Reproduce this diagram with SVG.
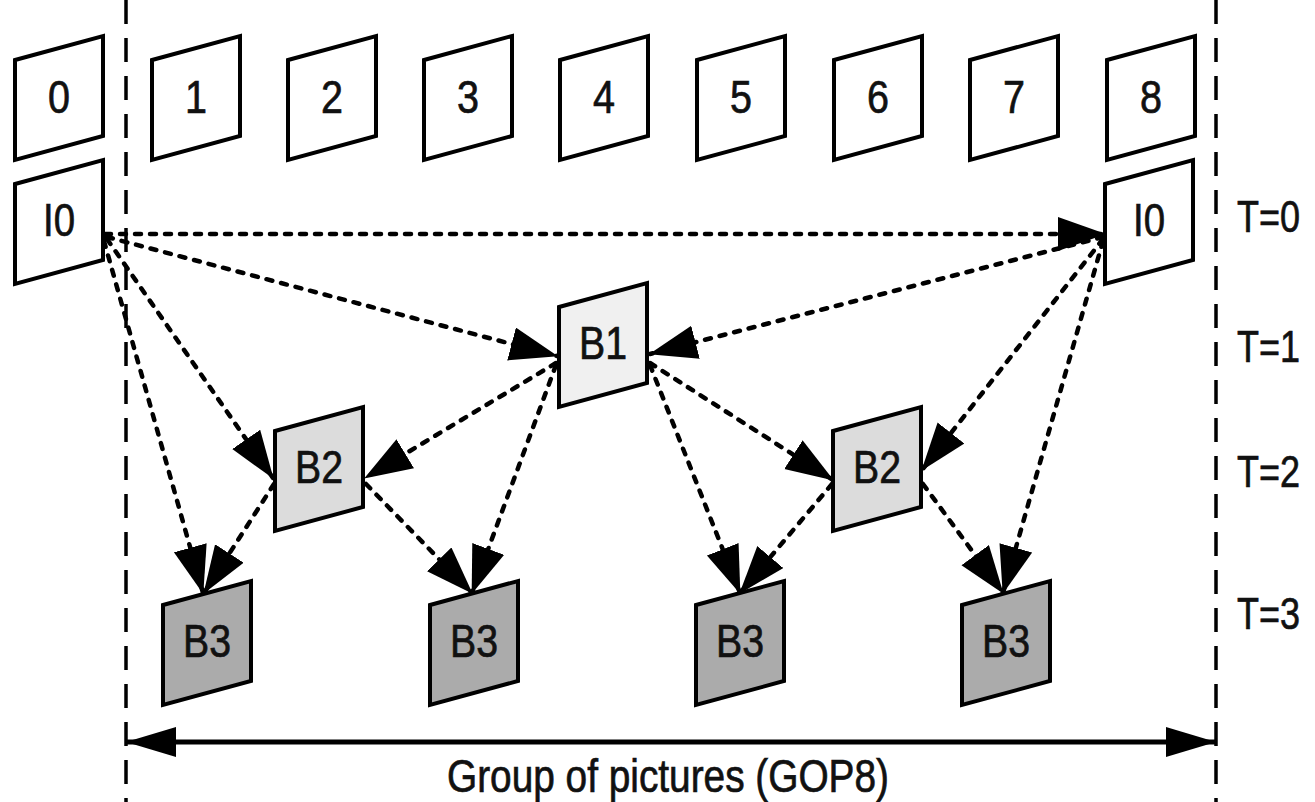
<svg xmlns="http://www.w3.org/2000/svg" width="1315" height="802" viewBox="0 0 1315 802">
<style>
.fr{stroke:#000;stroke-width:4;stroke-linejoin:miter}
.w{fill:#fff}.b1{fill:#f0f0f0}.b2{fill:#dcdcdc}.b3{fill:#ababab}
.t{font-family:"Liberation Sans",Arial,sans-serif;font-size:46px;fill:#111;stroke:#111;stroke-width:0.7;text-anchor:middle}
.tl{font-family:"Liberation Sans",Arial,sans-serif;font-size:45px;fill:#111;stroke:#111;stroke-width:0.7}
.c{fill:none;stroke:#000;stroke-width:4.5;stroke-linecap:round;stroke-dasharray:6 9;marker-end:url(#ah)}
.v{fill:none;stroke:#000;stroke-width:3.5;stroke-dasharray:24 14}
</style>
<defs>
<marker id="ah" markerUnits="userSpaceOnUse" viewBox="0 0 50 36" markerWidth="50" markerHeight="36" refX="47" refY="17" orient="auto"><path d="M0,0 L48,17 L0,34 z" fill="#000"/></marker>
<marker id="bh" markerUnits="userSpaceOnUse" viewBox="0 0 52 32" markerWidth="52" markerHeight="32" refX="50" refY="15" orient="auto-start-reverse"><path d="M0,0 L50,15 L0,30 z" fill="#000"/></marker>
</defs>
<rect width="1315" height="802" fill="#fff"/>
<g id="guides">
<line class="v" x1="126" y1="0" x2="126" y2="802"/>
<line class="v" x1="1216" y1="0" x2="1216" y2="802"/>
</g>
<g id="frames">
<g id="f0"><polygon class="fr w" points="15,60 103,36 103,136 15,160"/><text class="t" x="59" y="113" textLength="22" lengthAdjust="spacingAndGlyphs">0</text></g>
<g id="f1"><polygon class="fr w" points="152,60 240,36 240,136 152,160"/><text class="t" x="196" y="113" textLength="22" lengthAdjust="spacingAndGlyphs">1</text></g>
<g id="f2"><polygon class="fr w" points="288,60 376,36 376,136 288,160"/><text class="t" x="332" y="113" textLength="22" lengthAdjust="spacingAndGlyphs">2</text></g>
<g id="f3"><polygon class="fr w" points="424,60 512,36 512,136 424,160"/><text class="t" x="468" y="113" textLength="22" lengthAdjust="spacingAndGlyphs">3</text></g>
<g id="f4"><polygon class="fr w" points="560,60 648,36 648,136 560,160"/><text class="t" x="604" y="113" textLength="22" lengthAdjust="spacingAndGlyphs">4</text></g>
<g id="f5"><polygon class="fr w" points="697,60 785,36 785,136 697,160"/><text class="t" x="741" y="113" textLength="22" lengthAdjust="spacingAndGlyphs">5</text></g>
<g id="f6"><polygon class="fr w" points="834,60 922,36 922,136 834,160"/><text class="t" x="878" y="113" textLength="22" lengthAdjust="spacingAndGlyphs">6</text></g>
<g id="f7"><polygon class="fr w" points="970,60 1058,36 1058,136 970,160"/><text class="t" x="1014" y="113" textLength="22" lengthAdjust="spacingAndGlyphs">7</text></g>
<g id="f8"><polygon class="fr w" points="1107,60 1195,36 1195,136 1107,160"/><text class="t" x="1151" y="113" textLength="22" lengthAdjust="spacingAndGlyphs">8</text></g>
</g>
<g id="connectors">
<line class="c" x1="105" y1="234" x2="1105" y2="234"/>
<line class="c" x1="107" y1="237" x2="557" y2="356"/>
<line class="c" x1="107" y1="239" x2="273" y2="478"/>
<line class="c" x1="104" y1="241" x2="203" y2="593"/>
<line class="c" x1="1103" y1="237" x2="650" y2="354"/>
<line class="c" x1="1103" y1="239" x2="922" y2="470"/>
<line class="c" x1="1103" y1="241" x2="1003" y2="593"/>
<line class="c" x1="556" y1="363" x2="365" y2="478"/>
<line class="c" x1="556" y1="365" x2="472" y2="593"/>
<line class="c" x1="650" y1="363" x2="833" y2="480"/>
<line class="c" x1="650" y1="365" x2="740" y2="593"/>
<line class="c" x1="274" y1="484" x2="204" y2="593"/>
<line class="c" x1="366" y1="484" x2="472" y2="593"/>
<line class="c" x1="832" y1="484" x2="740" y2="593"/>
<line class="c" x1="923" y1="484" x2="1003" y2="593"/>
<line x1="126" y1="742" x2="1216" y2="742" stroke="#000" stroke-width="5" marker-start="url(#bh)" marker-end="url(#bh)"/>
</g>
<g id="I0a"><polygon class="fr w" points="15,184 103,160 103,260 15,284"/><text class="t" x="59" y="236" textLength="32" lengthAdjust="spacingAndGlyphs">I0</text></g>
<g id="I0b"><polygon class="fr w" points="1105,184 1193,160 1193,260 1105,284"/><text class="t" x="1149" y="236" textLength="32" lengthAdjust="spacingAndGlyphs">I0</text></g>
<g id="B1"><polygon class="fr b1" points="559,307 647,283 647,383 559,407"/><text class="t" x="603" y="359" textLength="48" lengthAdjust="spacingAndGlyphs">B1</text></g>
<g id="B2a"><polygon class="fr b2" points="275,431 363,407 363,507 275,531"/><text class="t" x="319" y="483" textLength="48" lengthAdjust="spacingAndGlyphs">B2</text></g>
<g id="B2b"><polygon class="fr b2" points="833,431 921,407 921,507 833,531"/><text class="t" x="877" y="483" textLength="48" lengthAdjust="spacingAndGlyphs">B2</text></g>
<g id="B3a"><polygon class="fr b3" points="163,605 251,581 251,681 163,705"/><text class="t" x="207" y="657" textLength="48" lengthAdjust="spacingAndGlyphs">B3</text></g>
<g id="B3b"><polygon class="fr b3" points="430,605 518,581 518,681 430,705"/><text class="t" x="474" y="657" textLength="48" lengthAdjust="spacingAndGlyphs">B3</text></g>
<g id="B3c"><polygon class="fr b3" points="696,605 784,581 784,681 696,705"/><text class="t" x="740" y="657" textLength="48" lengthAdjust="spacingAndGlyphs">B3</text></g>
<g id="B3d"><polygon class="fr b3" points="962,605 1050,581 1050,681 962,705"/><text class="t" x="1006" y="657" textLength="48" lengthAdjust="spacingAndGlyphs">B3</text></g>
<g id="levels">
<text class="tl" x="1237" y="232" textLength="63" lengthAdjust="spacingAndGlyphs">T=0</text>
<text class="tl" x="1237" y="362" textLength="63" lengthAdjust="spacingAndGlyphs">T=1</text>
<text class="tl" x="1237" y="487" textLength="63" lengthAdjust="spacingAndGlyphs">T=2</text>
<text class="tl" x="1237" y="629" textLength="63" lengthAdjust="spacingAndGlyphs">T=3</text>
</g>
<g id="gop"><text class="t" x="668" y="792" textLength="442" lengthAdjust="spacingAndGlyphs">Group of pictures (GOP8)</text></g>
</svg>
